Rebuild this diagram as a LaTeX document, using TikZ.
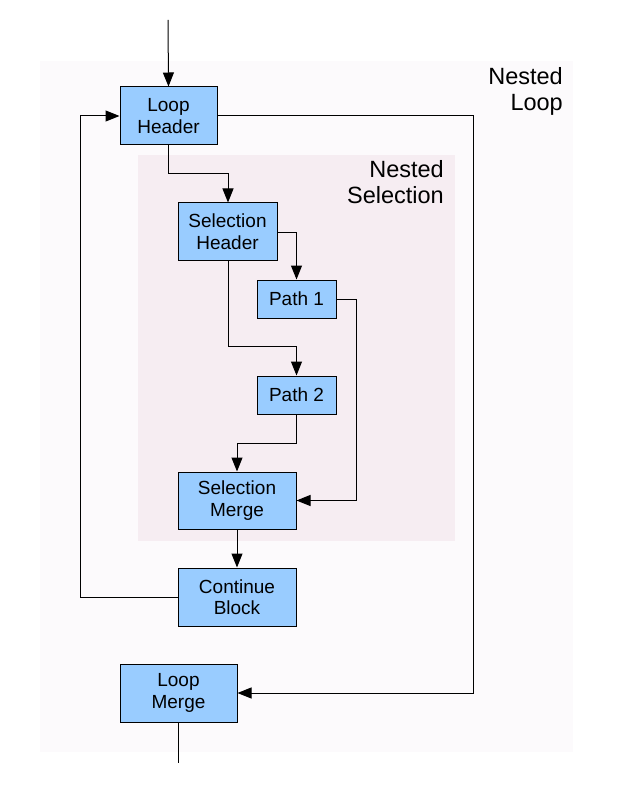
\documentclass[tikz,border=0pt]{standalone}
\usepackage{fontspec}
\setmainfont{Liberation Sans}
\usetikzlibrary{arrows.meta}
\definecolor{outerbg}{HTML}{FCFAFC}
\definecolor{innerbg}{HTML}{F6EDF2}
\definecolor{boxfill}{HTML}{99CCFF}
\begin{document}
\begin{tikzpicture}[x=1pt,y=-1pt,
  block/.style={draw=black, line width=1pt, fill=boxfill, inner sep=0pt, align=center,
    font=\fontsize{19}{21.5}\selectfont},
  region/.style={align=right, font=\fontsize{23.5}{26}\selectfont, inner sep=0pt},
  conn/.style={draw=black, line width=1pt},
  arr/.style={conn, -{Triangle[length=14pt,width=11pt]}}]
\useasboundingbox (0,0) rectangle (624,802);
\fill[outerbg] (40,61) rectangle (573,752);
\fill[innerbg] (138,155) rectangle (455,541);
\node[region, anchor=north east] (lblloop) at (563,67) {Nested\\Loop};
\node[region, anchor=north east] (lblsel) at (444,160) {Nested\\Selection};
% blocks
\node[block, minimum width=97pt, minimum height=58pt] (lh) at (168.5,116) {Loop\\Header};
\node[block, minimum width=99pt, minimum height=57pt] (sh) at (227.5,231.5) {Selection\\Header};
\node[block, minimum width=79pt, minimum height=38pt] (p1) at (296.5,299) {Path 1};
\node[block, minimum width=79pt, minimum height=38pt] (p2) at (296.5,395) {Path 2};
\node[block, minimum width=118pt, minimum height=57pt] (sm) at (237,500.5) {Selection\\Merge};
\node[block, minimum width=118pt, minimum height=58pt] (cb) at (237,597) {Continue\\Block};
\node[block, minimum width=117pt, minimum height=58pt] (lm) at (178.5,693) {Loop\\Merge};
\coordinate (top) at (168,20);
\coordinate (bot) at (178.5,763);
% connectors
\draw[arr] (top) -- (lh.north);
\draw[arr] (lh.east) -- (473,116) -- (473,693) -- (lm.east);
\draw[arr] (lh.south) -- (168.5,174) -- (228,174) -- (sh.north -| 228,0);
\draw[arr] (sh.east |- 0,232) -- (296.5,232) -- (p1.north);
\draw[arr] (sh.south -| 228,0) -- (228,346) -- (296.5,346) -- (p2.north);
\draw[arr] (p1.east) -- (356,299) -- (356,500.5) -- (sm.east);
\draw[arr] (p2.south) -- (296.5,443) -- (237,443) -- (sm.north);
\draw[arr] (sm.south) -- (cb.north);
\draw[arr] (cb.west) -- (80,597) -- (80,116) -- (lh.west);
\draw[conn] (lm.south) -- (bot);
\end{tikzpicture}
\end{document}
